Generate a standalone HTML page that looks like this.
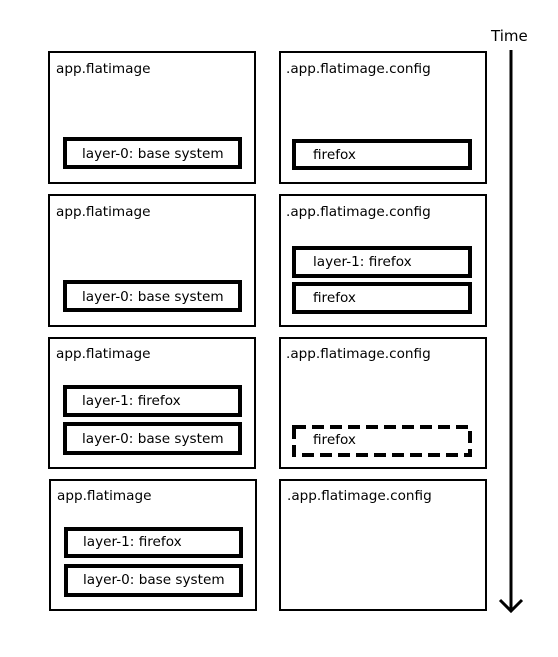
<!DOCTYPE html>
<html><head><style>
html,body{margin:0;padding:0;background:#fff;}
svg{display:block;}
text{font-family:"DejaVu Sans","Liberation Sans",sans-serif;font-size:13.6px;fill:#000;}
</style></head><body>
<svg width="558" height="657" viewBox="0 0 558 657" xmlns="http://www.w3.org/2000/svg">
<g fill="none" stroke="#000" stroke-width="2">
<rect x="49" y="52" width="206" height="131"/>
<rect x="280" y="52" width="206" height="131"/>
<rect x="49" y="195" width="206" height="131"/>
<rect x="280" y="195" width="206" height="131"/>
<rect x="49" y="338" width="206" height="130"/>
<rect x="280" y="338" width="206" height="130"/>
<rect x="50" y="480" width="206" height="130"/>
<rect x="280" y="480" width="206" height="130"/>
</g>
<g fill="none" stroke="#000" stroke-width="4">
<rect x="65" y="139" width="175" height="28"/>
<rect x="294" y="141" width="176" height="27"/>
<rect x="65" y="282" width="175" height="28"/>
<rect x="294" y="248" width="176" height="28"/>
<rect x="294" y="284" width="176" height="28"/>
<rect x="65" y="387" width="175" height="28"/>
<rect x="65" y="424" width="175" height="29"/>
<rect x="294" y="427" width="176" height="28" stroke-dasharray="12,6"/>
<rect x="66" y="529" width="175" height="27"/>
<rect x="66" y="566" width="175" height="29"/>
</g>
<g>
<text x="56" y="73">app.flatimage</text>
<text x="286" y="73">.app.flatimage.config</text>
<text x="56" y="216">app.flatimage</text>
<text x="286" y="216">.app.flatimage.config</text>
<text x="56" y="358">app.flatimage</text>
<text x="286" y="358">.app.flatimage.config</text>
<text x="57" y="500">app.flatimage</text>
<text x="287" y="500">.app.flatimage.config</text>
<text x="82" y="158">layer-0: base system</text>
<text x="313" y="159">firefox</text>
<text x="82" y="301">layer-0: base system</text>
<text x="313" y="266">layer-1: firefox</text>
<text x="313" y="302">firefox</text>
<text x="82" y="405">layer-1: firefox</text>
<text x="82" y="443">layer-0: base system</text>
<text x="313" y="444">firefox</text>
<text x="83" y="546">layer-1: firefox</text>
<text x="83" y="584">layer-0: base system</text>
<text x="491" y="41" style="font-size:15px">Time</text>
</g>
<line x1="511" y1="50" x2="511" y2="611" stroke="#000" stroke-width="3"/>
<polyline points="500,600 511,611 522,600" fill="none" stroke="#000" stroke-width="3"/>
</svg>
</body></html>
